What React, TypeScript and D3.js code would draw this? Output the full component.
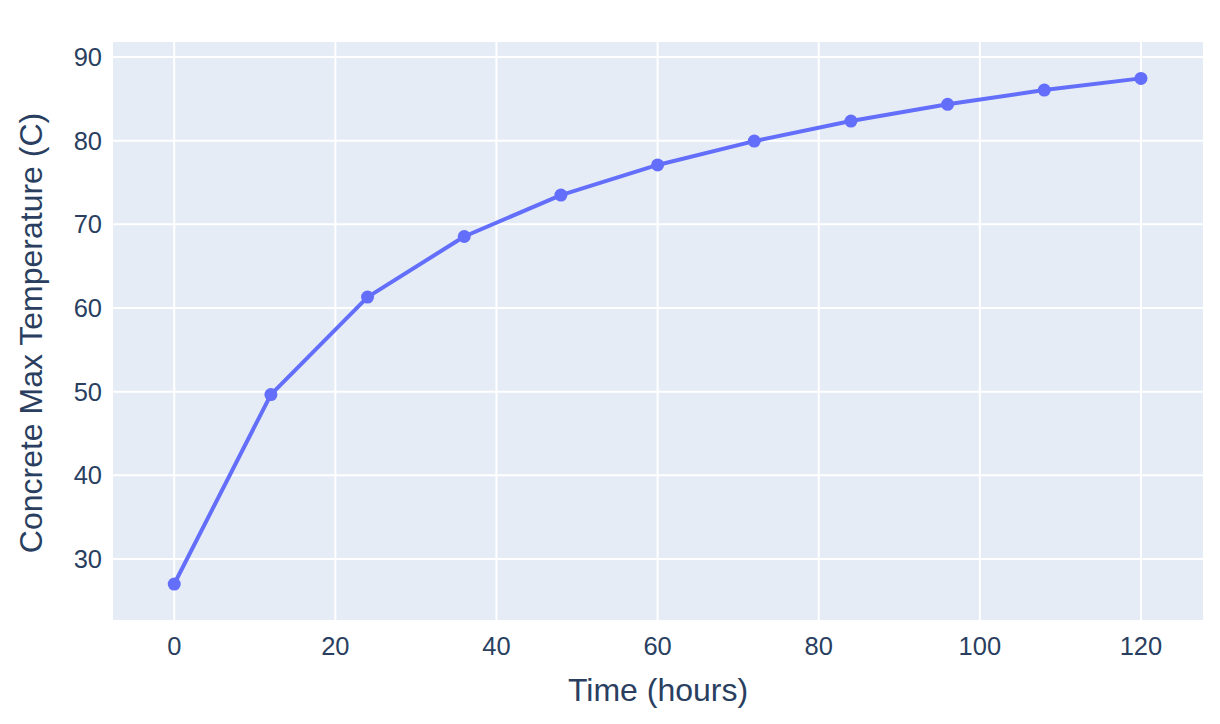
import React from "react";
import * as d3 from "d3";

const timeHours = [0, 12, 24, 36, 48, 60, 72, 84, 96, 108, 120];
const maxTemp = [27.0, 49.65, 61.3, 68.55, 73.5, 77.1, 79.95, 82.35, 84.35, 86.05, 87.45];
const xTicks = [0, 20, 40, 60, 80, 100, 120];
const yTicks = [30, 40, 50, 60, 70, 80, 90];
const xTitle = "Time (hours)";
const yTitle = "Concrete Max Temperature (C)";

const W = 1220, H = 724;
const L = 113, R = 1203, T = 42, B = 620;
const FONT = '"Liberation Sans", Arial, sans-serif';
const TEXT = "#2a3f5f";

export default function App() {
  const x = d3.scaleLinear().domain([-7.6, 127.7]).range([L, R]);
  const y = d3.scaleLinear().domain([22.7, 91.8]).range([B, T]);
  const pts = timeHours.map((t, i) => [t, maxTemp[i]] as [number, number]);
  const line = d3.line<[number, number]>().x(d => x(d[0])).y(d => y(d[1]))(pts) || "";
  return (
    <svg width={W} height={H} style={{ position: "absolute", left: 0, top: 0 }} fontFamily={FONT}>
      <rect x={0} y={0} width={W} height={H} fill="#fff" />
      <rect x={L} y={T} width={R - L} height={B - T} fill="#E5ECF6" />
      {xTicks.map(t => (
        <line key={"gx" + t} x1={x(t)} x2={x(t)} y1={T} y2={B} stroke="#fff" strokeWidth={2} />
      ))}
      {yTicks.map(t => (
        <line key={"gy" + t} x1={L} x2={R} y1={y(t)} y2={y(t)} stroke="#fff" strokeWidth={2} />
      ))}
      <path d={line} fill="none" stroke="#636efa" strokeWidth={4} strokeLinejoin="round" />
      {pts.map((p, i) => (
        <circle key={i} cx={x(p[0])} cy={y(p[1])} r={6.5} fill="#636efa" />
      ))}
      {xTicks.map(t => (
        <text key={"tx" + t} x={x(t)} y={646} textAnchor="middle" dominantBaseline="central" fontSize={25.5} fill={TEXT}>{t}</text>
      ))}
      {yTicks.map(t => (
        <text key={"ty" + t} x={102} y={y(t)} textAnchor="end" dominantBaseline="central" fontSize={25.5} fill={TEXT}>{t}</text>
      ))}
      <text x={(L + R) / 2} y={690} textAnchor="middle" dominantBaseline="central" fontSize={32} fill={TEXT}>{xTitle}</text>
      <text transform={`translate(31,${(T + B) / 2 + 2}) rotate(-90)`} textAnchor="middle" dominantBaseline="central" fontSize={32} fill={TEXT}>{yTitle}</text>
    </svg>
  );
}
